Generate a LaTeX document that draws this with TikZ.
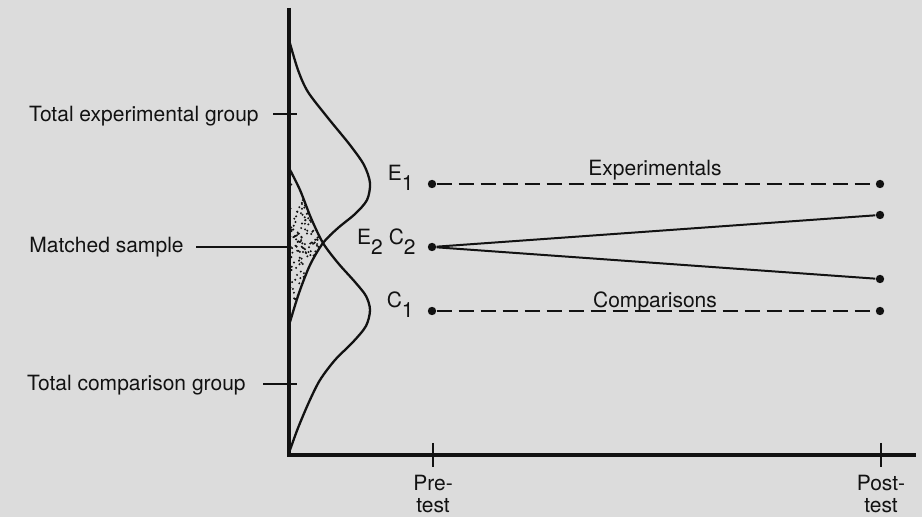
\documentclass[tikz,border=0pt]{standalone}
\usepackage{fontspec}
\setmainfont{TeX Gyre Heros}
\usetikzlibrary{positioning}
\definecolor{paper}{HTML}{DCDCDC}
\definecolor{ink}{HTML}{121212}
\newcommand{\lowsub}[1]{\raisebox{-5pt}{#1}}

\begin{document}
\begin{tikzpicture}[
    x=0.5pt, y=-0.5pt,
    lbl/.style={inner sep=0pt, text=ink, font=\fontsize{10.5pt}{11pt}\selectfont},
    axisline/.style={draw=ink, line width=1.7pt},
    curve/.style={draw=ink, line width=1.15pt, line join=round},
    tick/.style={draw=ink, line width=0.9pt},
    dline/.style={draw=ink, line width=1pt, dash pattern=on 7.5pt off 3.5pt},
    sline/.style={draw=ink, line width=1pt},
    endpt/.style={circle, fill=ink, inner sep=0pt, minimum size=4.2pt},
]

\fill[paper] (0,0) rectangle (922,517);
\useasboundingbox (0,0) rectangle (922,517);

\begin{scope}
  \clip (289,168) -- (300,190) -- (311,218) -- (323,243) -- (310,265)
        -- (299,293) -- (289,322) -- cycle;
  \pgfmathsetseed{12}
  \foreach \k in {1,...,190}{
    \pgfmathsetmacro{\dx}{290+30*rnd}
    \pgfmathsetmacro{\dy}{240+70*(rnd+rnd-1)}
    \fill[ink] (\dx,\dy) circle[radius=0.55pt];
  }
\end{scope}

\draw[curve] plot[smooth] coordinates {(289,40) (298,70) (308,92) (328,118)
  (350,145) (364,165) (370,183) (367,200) (355,214) (338,228) (323,243)
  (310,265) (299,293) (290,322)};
\draw[curve] plot[smooth] coordinates {(289,168) (300,190) (311,218) (323,243)
  (338,263) (355,282) (366,296) (370,310) (366,326) (353,342) (335,360)
  (320,380) (309,402) (298,428) (290,450)};

\coordinate (top) at (289,8);
\coordinate (orig) at (289,455);
\coordinate (xend) at (916,455);
\draw[axisline] (top) -- (orig) -- (xend);

\draw[tick] (273,114) -- (297,114);
\draw[tick] (263,384) -- (297,384);
\draw[tick] (433,443) -- (433,467);
\draw[tick] (881,443) -- (881,467);

\node[lbl, anchor=base east] (totexp) at (259,122) {Total experimental group};
\node[lbl, anchor=base east] (totcmp) at (246,391) {Total comparison group};
\node[lbl, anchor=east] (match) at (184,247) {Matched sample};
\coordinate (mpt) at (289,247);
\draw[tick, shorten <=6pt] (match) -- (mpt);

\node[endpt] (e1) at (432,184) {};
\node[endpt] (m2) at (432,247) {};
\node[endpt] (c1) at (432,311) {};
\node[endpt] (e1p) at (880,184) {};
\node[endpt] (up) at (880,215) {};
\node[endpt] (dn) at (880,279) {};
\node[endpt] (c1p) at (880,311) {};

\draw[dline] (e1) -- (e1p);
\draw[sline] (m2) -- (up);
\draw[sline] (m2) -- (dn);
\draw[dline] (c1) -- (c1p);

\node[lbl, anchor=base east] (le1) at (414,181) {E\lowsub{1}};
\node[lbl, anchor=base east] (lm2) at (416,245) {E\lowsub{2} C\lowsub{2}};
\node[lbl, anchor=base east] (lc1) at (414,308) {C\lowsub{1}};
\node[lbl, anchor=base] (exps) at (655,176) {Experimentals};
\node[lbl, anchor=base] (cmps) at (655,308) {Comparisons};

\node[lbl, align=center, anchor=north] (pre) at (433,475) {Pre-\\test};
\node[lbl, align=center, anchor=north] (post) at (881,475) {Post-\\test};

\end{tikzpicture}
\end{document}
